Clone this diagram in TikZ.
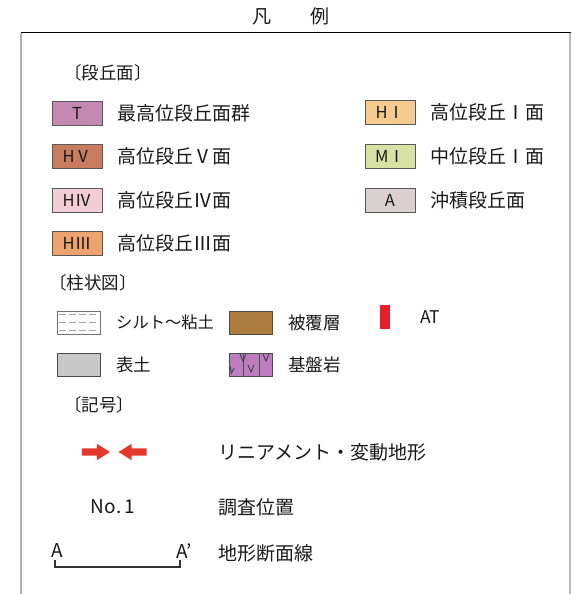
\documentclass[tikz,border=0pt]{standalone}
\usepackage{fontspec}
\newfontfamily\jp{Noto Sans CJK JP}
\usetikzlibrary{positioning,shapes.arrows}

\definecolor{tColor}{RGB}{196,137,178}
\definecolor{hvColor}{RGB}{201,125,95}
\definecolor{hivColor}{RGB}{242,204,214}
\definecolor{hiiiColor}{RGB}{236,163,112}
\definecolor{hiColor}{RGB}{246,203,143}
\definecolor{miColor}{RGB}{216,226,164}
\definecolor{aColor}{RGB}{218,208,208}
\definecolor{coverColor}{RGB}{172,124,62}
\definecolor{soilColor}{RGB}{200,200,200}
\definecolor{baseColor}{RGB}{190,125,190}
\definecolor{atRed}{RGB}{232,30,40}
\definecolor{arrowRed}{RGB}{228,55,45}

\begin{document}
\begin{tikzpicture}[x=1pt, y=-1pt,
    font=\jp\fontsize{19}{22}\selectfont, text=black!90,
    key/.style={rectangle, draw=black!65, line width=1pt, minimum width=50pt, minimum height=24pt, inner sep=0pt, font=\jp\fontsize{16.5}{16}\selectfont},
    col/.style={rectangle, draw=black!70, line width=1pt, minimum width=43pt, minimum height=23pt, inner sep=0pt},
    txt/.style={right=15pt of #1, inner sep=0pt},
    coltxt/.style={right=15pt of #1, inner sep=0pt, font=\jp\fontsize{17.5}{20}\selectfont},
    head/.style={anchor=west, inner sep=0pt, font=\jp\fontsize{17.5}{20}\selectfont},
    redarrow/.style={single arrow, fill=arrowRed, inner xsep=0pt, inner ysep=3.5pt, minimum height=28pt, minimum width=16pt, single arrow head extend=4.5pt, single arrow tip angle=64}
]
\useasboundingbox (0,0) rectangle (575,594);

% frame
\draw[gray!60, line width=1.2pt] (21,594) -- (21,33);
\draw[black, line width=1pt] (21,33) -- (571,33);
\draw[gray!55, line width=2pt] (570,33) -- (570,594);
\node (title) at (291,16) {凡\hspace{40pt}例};

% terraces
\node[head] (terr) at (64,73) {〔段丘面〕};
\node[key, fill=tColor] (t) at (77,113) {T};
\node[key, fill=hvColor, below=18.5pt of t] (hv) {HⅤ};
\node[key, fill=hivColor, below=18.5pt of hv] (hiv) {HⅣ};
\node[key, fill=hiiiColor, below=18.5pt of hiv] (hiii) {HⅢ};
\node[txt=t] (t-txt) {最高位段丘面群};
\node[txt=hv] (hv-txt) {高位段丘Ⅴ面};
\node[txt=hiv] (hiv-txt) {高位段丘Ⅳ面};
\node[txt=hiii] (hiii-txt) {高位段丘Ⅲ面};

\node[key, fill=hiColor] (hi) at (390,112.5) {HⅠ};
\node[key, fill=miColor, below=19pt of hi] (mi) {MⅠ};
\node[key, fill=aColor, below=19pt of mi] (a) {A};
\node[txt=hi] (hi-txt) {高位段丘Ⅰ面};
\node[txt=mi] (mi-txt) {中位段丘Ⅰ面};
\node[txt=a] (a-txt) {沖積段丘面};

% columns
\node[head] (colm) at (49,283) {〔柱状図〕};
\node[col, draw=black!55] (silt) at (79,322.5) {};
\foreach \s in {-4,-12,-20}
  \draw[gray!70, dash pattern=on 7pt off 3pt, line width=0.8pt] ([xshift=2pt,yshift=\s pt]silt.north west) -- ([xshift=-2pt,yshift=\s pt]silt.north east);
\node[coltxt=silt, font=\jp\fontsize{16.3}{20}\selectfont] (silt-txt) {シルト～粘土};
\node[col, fill=coverColor] (cover) at (251,322.5) {};
\node[coltxt=cover] (cover-txt) {被覆層};
\node[fill=atRed, inner sep=0pt, minimum width=10pt, minimum height=24pt] (at) at (385,317) {};
\node[coltxt=at, right=30pt of at] (at-txt) {AT};

\node[col, fill=soilColor] (soil) at (79,365) {};
\node[coltxt=soil] (soil-txt) {表土};
\node[col, fill=baseColor] (base) at (251,365) {};
\draw[black!70, line width=0.6pt] ([xshift=14pt]base.north west) -- ([xshift=14pt]base.south west)
  ([xshift=30pt]base.north west) -- ([xshift=30pt]base.south west);
\draw[black!75, line width=0.9pt]
  ([xshift=11pt,yshift=-1pt]base.north west) -- ++(3,7) -- ++(3,-7)
  ([xshift=34pt,yshift=-1pt]base.north west) -- ++(3,7) -- ++(3,-7)
  ([xshift=19pt,yshift=-12pt]base.north west) -- ++(3,7) -- ++(3,-7)
  ([xshift=1pt,yshift=-13pt]base.north west) -- ++(1.5,7) -- ++(2.5,-5);
\node[coltxt=base] (base-txt) {基盤岩};

% symbols
\node[head] (sym) at (64,405) {〔記号〕};
\node[redarrow] (ra) at (93,452) {};
\node[redarrow, shape border rotate=180] (la) at (135.5,452) {};
\node[head, font=\jp\fontsize{19}{22}\selectfont] (lin-txt) at (218,452) {リニアメント・変動地形};
\node (no) at (113,507) {No.\,1};
\node[head, font=\jp\fontsize{19}{22}\selectfont] (no-txt) at (218,507) {調査位置};
\node (sa) at (57,551) {A};
\node (sb) at (184,551) {A’};
\coordinate (sl) at (55,560);
\coordinate (sr) at (180,560);
\draw[black!80, line width=1.2pt] (sl) -- ++(0,7) -| (sr);
\node[head, font=\jp\fontsize{19}{22}\selectfont] (sec-txt) at (218,553) {地形断面線};
\end{tikzpicture}
\end{document}
